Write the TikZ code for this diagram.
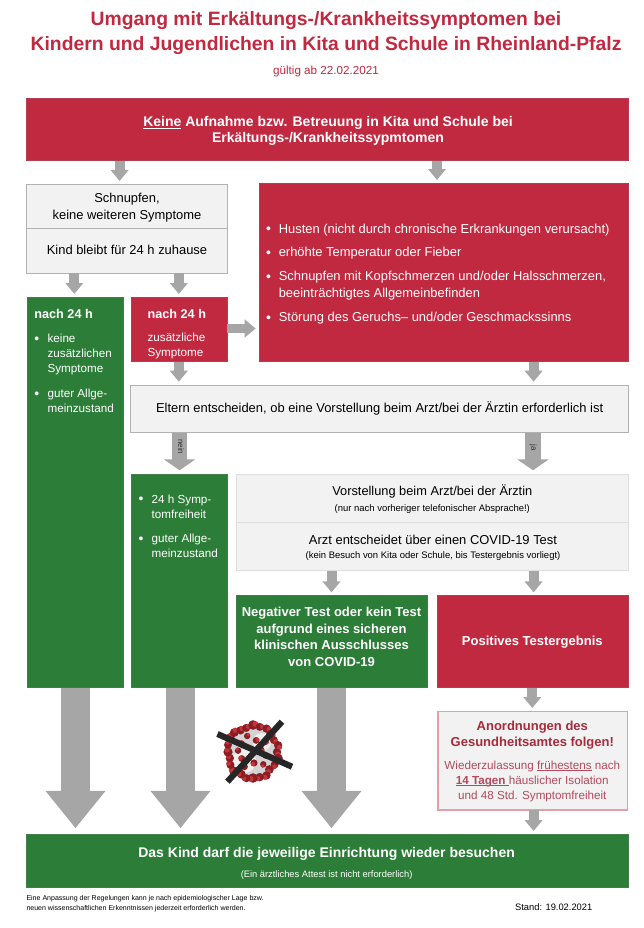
\documentclass[tikz,border=0pt]{standalone}
\usepackage{fontspec}
\setmainfont{Liberation Sans}
\usetikzlibrary{arrows.meta}
\definecolor{cred}{HTML}{C0293F}
\definecolor{cgreen}{HTML}{2C7D37}
\definecolor{cgrey}{HTML}{A6A6A6}
\definecolor{cpale}{HTML}{F2F2F2}
\definecolor{cdark}{HTML}{A52B3D}
\definecolor{cbody}{HTML}{B24A5C}
\definecolor{vdark}{HTML}{8A1E24}
\definecolor{vred}{HTML}{C4353A}
\newcommand{\fsz}[1]{\fontsize{#1pt}{#1pt}\selectfont}
\newcommand{\myul}[1]{\setbox0=\hbox{#1}\rlap{\rule[-1.2pt]{\wd0}{.55pt}}\box0\relax}
\tikzset{
  boxbase/.style={inner sep=0pt,outer sep=0pt},
  redbox/.style={boxbase,fill=cred,draw=cred!75!gray,line width=.6pt},
  greenbox/.style={boxbase,fill=cgreen,draw=cgreen!75!gray,line width=.6pt},
  palebox/.style={boxbase,fill=cpale,draw=black!30,line width=.7pt},
  lightbox/.style={boxbase,fill=cpale,draw=black!13,line width=.7pt},
  pinkbox/.style={boxbase,fill=cpale,draw=cred!45!white,line width=1pt},
  lbl/.style={inner sep=0pt,outer sep=0pt,align=center,anchor=center},
  lft/.style={inner sep=0pt,outer sep=0pt,align=left,anchor=west},
  wh/.style={text=white},
  conn/.style={draw=cgrey,line width=7.5pt,-{Triangle[length=8.2pt,width=13pt,fill=cgrey]},shorten >=2.5pt},
  connwide/.style={draw=cgrey,line width=11.8pt,-{Triangle[length=8.2pt,width=23.2pt,fill=cgrey]},shorten >=3pt},
  connbig/.style={draw=cgrey,line width=21.8pt,-{Triangle[length=28pt,width=43pt,fill=cgrey]},shorten >=4.5pt},
  blob/.style={fill=#1,draw=none},
}
\newcommand{\bx}[6]{\node[#2,minimum width={(#5-#3)*0.75pt},minimum height={(#6-#4)*0.75pt}] (#1) at ({(#3+#5)/2},{(#4+#6)/2}) {};}
\newcommand{\bul}[3]{\node[lft,anchor=center,text=white,font=\fsz{10.5}] (#1) at (#2,{#3+2}) {•};}
\begin{document}
\begin{tikzpicture}[x=0.75pt,y=-0.75pt]
\useasboundingbox (0,0) rectangle (643,928);
\fill[white] (0,0) rectangle (643,928);
\begin{scope}[xshift=-0.75pt]

% titles
\node[lbl,text=cred,font=\fsz{14.5}\bfseries] (t1) at (327,33.5) {Umgang mit Erkältungs-/Krankheitssymptomen bei\\[4.2pt]Kindern und Jugendlichen in Kita und Schule in Rheinland-Pfalz};
\node[lbl,text=cred,font=\fsz{8.75},anchor=mid] (t2) at (327,71) {gültig ab 22.02.2021};

% boxes
\bx{top}{redbox}{27.5}{98.3}{629.5}{160.5}
\bx{sn}{palebox}{27.5}{184.3}{228.4}{228.3}
\bx{kb}{palebox}{27.5}{228.3}{228.4}{273.3}
\bx{rl}{redbox}{260}{183.3}{629}{361.7}
\bx{g1}{greenbox}{28}{297.3}{124}{687.7}
\bx{rs}{redbox}{132.5}{297.3}{228.4}{361.7}
\bx{el}{palebox}{131.7}{385}{629}{432.7}
\bx{g2}{greenbox}{132.5}{474.3}{228.4}{687.7}
\bx{vo}{lightbox}{237.9}{474.3}{629}{522.3}
\bx{az}{lightbox}{237.9}{522.3}{629}{570.7}
\bx{g3}{greenbox}{237.4}{595.7}{428.4}{687.7}
\bx{po}{redbox}{437.9}{595.7}{629}{687.7}
\bx{an}{pinkbox}{439}{711.3}{628.4}{810}
\bx{bo}{greenbox}{27.2}{834.3}{629}{887.3}

% texts
\node[lbl,text=white,font=\fsz{10.5}\bfseries] (ttop) at (329,131) {\underline{Keine} Aufnahme bzw. Betreuung in Kita und Schule bei\\[1.5pt]Erkältungs-/Krankheitssypmtomen};
\node[lbl,font=\fsz{9.7}] (tsn) at (128,208) {Schnupfen,\\[3pt]keine weiteren Symptome};
\node[lbl,font=\fsz{9.7},anchor=mid] (tkb) at (128,250.5) {Kind bleibt für 24 h zuhause};

\bul{b1}{269.5}{228.7}\node[lft,wh,font=\fsz{9.7},anchor=mid west] (l1) at (279.8,229.5) {Husten (nicht durch chronische Erkrankungen verursacht)};
\bul{b2}{269.5}{252.3}\node[lft,wh,font=\fsz{9.7},anchor=mid west] (l2) at (279.8,253) {erhöhte Temperatur oder Fieber};
\bul{b3}{269.5}{276.3}\node[lft,wh,font=\fsz{9.7}] (l3) at (279.8,286) {Schnupfen mit Kopfschmerzen und/oder Halsschmerzen,\\[3pt]beeinträchtigtes Allgemeinbefinden};
\bul{b4}{269.5}{317.3}\node[lft,wh,font=\fsz{9.7},anchor=mid west] (l4) at (279.8,318) {Störung des Geruchs– und/oder Geschmackssinns};

\node[lft,wh,font=\fsz{9.5}\bfseries,anchor=mid west] (n1) at (35.4,315) {nach 24 h};
\bul{b5}{37.9}{338.7}\node[lft,wh,font=\fsz{8.75}] (g1a) at (48.6,354) {keine\\[2.5pt]zusätzlichen\\[2.5pt]Symptome};
\bul{b6}{37.9}{393}\node[lft,wh,font=\fsz{8.75}] (g1b) at (48.6,401) {guter Allge-\\[2.5pt]meinzustand};

\node[lft,wh,font=\fsz{9.5}\bfseries,anchor=mid west] (n2) at (148.6,315) {nach 24 h};
\node[lft,wh,font=\fsz{8.75}] (rst) at (148.6,346) {zusätzliche\\[2.5pt]Symptome};

\node[lbl,font=\fsz{9.7},anchor=mid] (tel) at (380.6,408.8) {Eltern entscheiden, ob eine Vorstellung beim Arzt/bei der Ärztin erforderlich ist};

\bul{b7}{142}{498.7}\node[lft,wh,font=\fsz{8.75}] (g2a) at (152.7,506.5) {24 h Symp-\\[2.5pt]tomfreiheit};
\bul{b8}{142}{538}\node[lft,wh,font=\fsz{8.75}] (g2b) at (152.7,546) {guter Allge-\\[2.5pt]meinzustand};

\node[lbl,font=\fsz{9.6},anchor=mid] (tv1) at (433.3,491.8) {Vorstellung beim Arzt/bei der Ärztin};
\node[lbl,font=\fsz{7.1},anchor=mid] (tv2) at (433.3,508) {(nur nach vorheriger telefonischer Absprache!)};
\node[lbl,font=\fsz{9.7},anchor=mid] (ta1) at (434,540.8) {Arzt entscheidet über einen COVID-19 Test};
\node[lbl,font=\fsz{7.1},anchor=mid] (ta2) at (434,554.7) {(kein Besuch von Kita oder Schule, bis Testergebnis vorliegt)};

\node[lbl,wh,font=\fsz{9.75}\bfseries] (tg3) at (332.5,637) {Negativer Test oder kein Test\\[2.65pt]aufgrund eines sicheren\\[2.65pt]klinischen Ausschlusses\\[2.65pt]von COVID-19};
\node[lbl,wh,font=\fsz{9.75}\bfseries,anchor=mid] (tpo) at (533.3,641.8) {Positives Testergebnis};

\node[lbl,text=cdark,font=\fsz{9.75}\bfseries] (tan) at (533.3,735.5) {Anordnungen des\\[2.25pt]Gesundheitsamtes folgen!};
\node[lbl,text=cbody,font=\fsz{8.75}] (tan2) at (533.3,781) {Wiederzulassung \myul{frühestens} nach\\[2.5pt]\myul{\textbf{14 Tagen}\ }häuslicher Isolation\\[2.5pt]und 48 Std. Symptomfreiheit};

\node[lbl,wh,font=\fsz{10.5}\bfseries,anchor=mid] (tbo) at (327.6,854) {Das Kind darf die jeweilige Einrichtung wieder besuchen};
\node[lbl,wh,font=\fsz{7},anchor=mid] (tbo2) at (327.6,874) {(Ein ärztliches Attest ist nicht erforderlich)};

\node[lft,font=\fsz{5.27}] (fn) at (27.5,903.7) {Eine Anpassung der Regelungen kann je nach epidemiologischer Lage bzw.\\[2.3pt]neuen wissenschaftlichen Erkenntnissen jederzeit erforderlich werden.};
\node[lbl,font=\fsz{7},anchor=mid] (st) at (554.7,906.7) {Stand: 19.02.2021};

% connectors
\draw[conn] (120.6,0 |- top.south) -- (120.6,0 |- sn.north);
\draw[conn] (438,0 |- top.south) -- (438,0 |- rl.north);
\draw[conn] (75.3,0 |- kb.south) -- (75.3,0 |- g1.north);
\draw[conn] (179.8,0 |- kb.south) -- (179.8,0 |- rs.north);
\draw[conn,line width=6.3pt] (rs.east |- 0,328.5) -- (rl.west |- 0,328.5);
\draw[conn] (179.8,0 |- rs.south) -- (179.8,0 |- el.north);
\draw[conn] (534.6,0 |- rl.south) -- (534.6,0 |- el.north);
\draw[connwide] (180.6,0 |- el.south) -- (180.6,0 |- g2.north);
\draw[connwide] (534,0 |- el.south) -- (534,0 |- vo.north);
\draw[conn] (332.5,0 |- az.south) -- (332.5,0 |- g3.north);
\draw[conn] (534.6,0 |- az.south) -- (534.6,0 |- po.north);
\draw[conn] (533.3,0 |- po.south) -- (533.3,0 |- an.north);
\draw[conn] (534.6,0 |- an.south) -- (534.6,0 |- bo.north);
\draw[connbig] (76.5,0 |- g1.south) -- (76.5,0 |- bo.north);
\draw[connbig] (181.5,0 |- g2.south) -- (181.5,0 |- bo.north);
\draw[connbig] (332.5,0 |- g3.south) -- (332.5,0 |- bo.north);

\node[lbl,font=\fsz{6},rotate=-90,text=black!80] (tn) at (182,446.7) {nein};
\node[lbl,font=\fsz{6},rotate=-90,text=black!80] (tj) at (534.5,448) {ja};

% virus
\begin{scope}[shift={(254,752)}]
  \fill[black!17] (0,0) circle (25);
  \fill[black!6] (-9,9) circle (12);
  \fill[black!6] (9,-10) circle (9);
  \foreach \a/\r/\s in {0/24/4.2,14/26/4.6,30/25/4,47/24/4.4,60/27/4.2,75/26/4.2,90/26/4.8,104/27/4,118/25/4.4,135/27/4.6,150/26/4,165/24/4.2,180/25/4.6,196/26/4,212/27/4.4,226/27/4.4,240/25/4.2,254/25/4,270/27/4.8,285/26/4,300/27/4.2,315/25/4.6,330/24/4,345/26/4.2,
  15/13/3.4,50/16/3.2,85/11/3.6,120/17/3.4,150/13/3.4,185/15/3.2,215/14/3.6,250/17/3.2,285/12/3.4,320/16/3.4,345/9/2.8}{
    \fill[blob=vdark] (\a:\r) circle (\s);
    \fill[blob=vred] ({\a+5}:{\r+1}) circle ({\s*.6});
  }
\end{scope}
\coordinate (xa) at (218.5,734); \coordinate (xb) at (293,766.7);
\coordinate (xc) at (283,721.7); \coordinate (xd) at (228.4,781.7);
\draw[black!85,line width=4.6pt] (xa) -- (xb);
\draw[black!85,line width=4.6pt] (xc) -- (xd);
\end{scope}
\end{tikzpicture}
\end{document}
